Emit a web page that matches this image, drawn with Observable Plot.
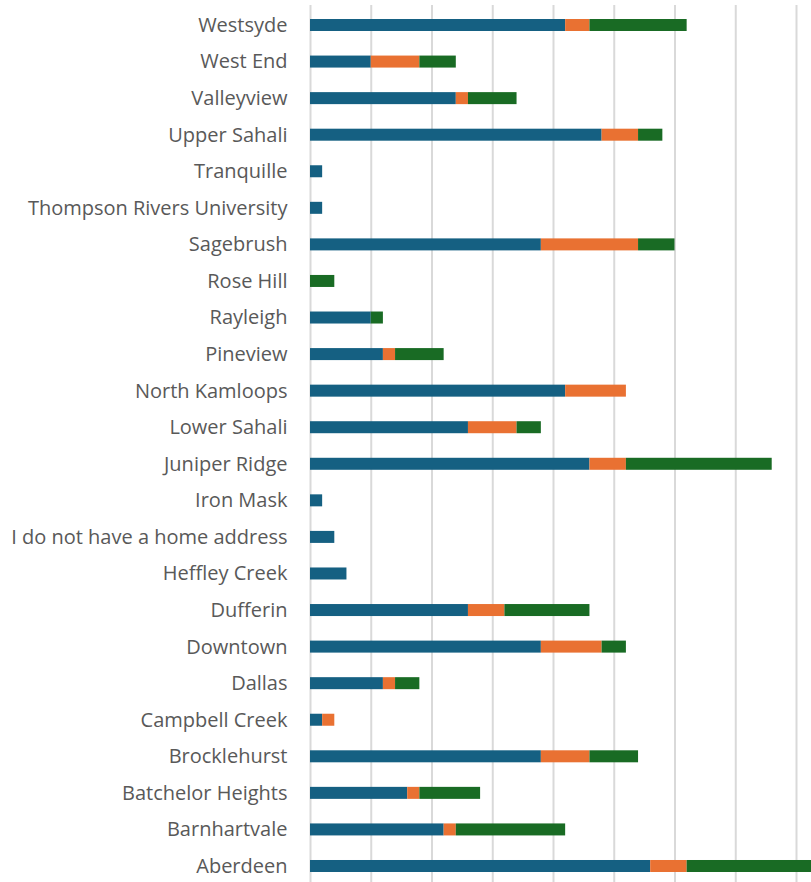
<!DOCTYPE html>
<html>
<head>
<meta charset="utf-8">
<script src="https://cdn.jsdelivr.net/npm/d3@7"></script>
<script src="https://cdn.jsdelivr.net/npm/@observablehq/plot@0.6"></script>
<style>
  html, body { margin: 0; padding: 0; background: #fff; }
  #chart { width: 811px; height: 882px; overflow: hidden; }
</style>
</head>
<body>
<div id="chart"></div>
<script>
// Categories, top to bottom
const neighbourhoods = [
  "Westsyde", "West End", "Valleyview", "Upper Sahali", "Tranquille",
  "Thompson Rivers University", "Sagebrush", "Rose Hill", "Rayleigh", "Pineview",
  "North Kamloops", "Lower Sahali", "Juniper Ridge", "Iron Mask",
  "I do not have a home address", "Heffley Creek", "Dufferin", "Downtown",
  "Dallas", "Campbell Creek", "Brocklehurst", "Batchelor Heights",
  "Barnhartvale", "Aberdeen"
];
const seriesNames = ["Series 1", "Series 2", "Series 3"];
const seriesColors = ["#156082", "#E97132", "#196B24"];

const series1 = [21, 5, 12, 24, 1, 1, 19, 0, 5, 6, 21, 13, 23, 1, 2, 3, 13, 19, 6, 1, 19, 8, 11, 28];
const series2 = [2, 4, 1, 3, 0, 0, 8, 0, 0, 1, 5, 4, 3, 0, 0, 0, 3, 5, 1, 1, 4, 1, 1, 3];
const series3 = [8, 3, 4, 2, 0, 0, 3, 2, 1, 4, 0, 2, 12, 0, 0, 0, 7, 2, 2, 0, 4, 5, 9, 12];

const gridTicks = [0, 5, 10, 15, 20, 25, 30, 35, 40];

const allSeries = [series1, series2, series3];
const rows = [];
seriesNames.forEach((s, si) => {
  neighbourhoods.forEach((n, i) => {
    rows.push({name: n, series: s, value: allSeries[si][i]});
  });
});

const W = 811, H = 882;
const left = 310;
const unit = 12.15;          // px per unit
const step = 36.565;         // row pitch
const firstCenter = 25;
const yStart = firstCenter - step / 2;

const chart = Plot.plot({
  width: W,
  height: H,
  marginLeft: left,
  marginRight: 0,
  marginTop: 5,
  marginBottom: 0,
  style: {
    fontFamily: "'Open Sans', sans-serif",
    fontSize: "20px",
    color: "#595959",
    background: "#fff"
  },
  x: {domain: [0, (W - left) / unit], axis: null},
  y: {
    domain: neighbourhoods,
    range: [yStart, yStart + step * neighbourhoods.length],
    padding: 0,
    round: false,
    label: null,
    tickSize: 0,
    tickPadding: 23
  },
  color: {domain: seriesNames, range: seriesColors},
  marks: [
    Plot.ruleX(gridTicks, {stroke: "#d9d9d9", strokeWidth: 2}),
    Plot.barX(rows, {
      y: "name",
      x: "value",
      fill: "series",
      order: seriesNames,
      insetTop: (step - 12) / 2,
      insetBottom: (step - 12) / 2,
      clip: true
    }),
    Plot.axisY({tickSize: 0, tickPadding: 23, label: null, fill: "#595959"})
  ]
});
document.getElementById("chart").appendChild(chart);
</script>
</body>
</html>
